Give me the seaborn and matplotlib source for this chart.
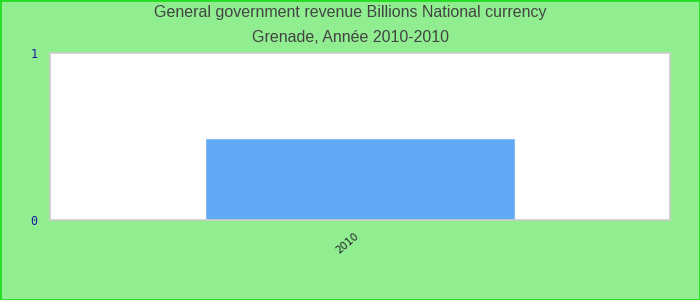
import matplotlib
matplotlib.use("Agg")
import matplotlib.pyplot as plt
import matplotlib.transforms as mtransforms
import seaborn as sns
import pandas as pd

categories = ["2010"]
values = [0.49]
title_lines = ["General government revenue Billions National currency", "Grenade, Année 2010-2010"]
y_ticks = [0, 1]

sns.set_theme(style="white")
plt.rcParams['font.family'] = ['Liberation Sans Narrow', 'Liberation Sans', 'DejaVu Sans']

df = pd.DataFrame({"year": categories, "value": values})

fig = plt.figure(figsize=(7, 3), dpi=100, facecolor="#90EE90")
ax = fig.add_axes([50/700, 1-220/300, 620/700, (220-53.3)/300])
ax.set_facecolor("white")
sns.barplot(data=df, x="year", y="value", color="#62A9F5", saturation=1, width=0.5, ax=ax)
ax.set_xlim(-0.5, 0.5)
ax.set_ylim(0, 1)
ax.set_yticks(y_ticks)
ax.set_yticklabels([str(t) for t in y_ticks], color="#1a1aa0", fontsize=8.5, family="DejaVu Sans Mono")
ax.tick_params(axis="y", length=0, pad=9)
ax.tick_params(axis="x", length=0, pad=8)
offset = mtransforms.ScaledTranslation(-6/100, 0, fig.dpi_scale_trans)
for lab in ax.get_xticklabels():
    lab.set_rotation(40)
    lab.set_ha("right")
    lab.set_rotation_mode("anchor")
    lab.set_fontsize(7.5)
    lab.set_color("#222222")
    lab.set_family("DejaVu Sans")
    lab.set_transform(lab.get_transform() + offset)
ax.set_xlabel("")
ax.set_ylabel("")
for s in ax.spines.values():
    s.set_color("#cccccc")
    s.set_linewidth(1.2)

fig.text(0.5, 1-13/300, title_lines[0], ha="center", va="center", fontsize=11.5, color="#444444")
fig.text(0.5, 1-37/300, title_lines[1], ha="center", va="center", fontsize=11.5, color="#444444")

border = plt.Rectangle((0, 0), 1, 1, transform=fig.transFigure, fill=False, edgecolor="#22dd22", linewidth=2)
fig.patches.append(border)

fig.savefig("out.png", dpi=100, facecolor=fig.get_facecolor())
